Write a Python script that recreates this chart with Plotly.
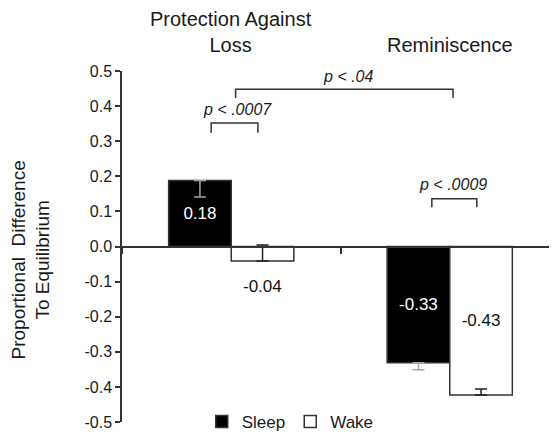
import plotly.graph_objects as go

# ---- data ----
categories = ["Protection Against<br>Loss", "Reminiscence"]
cat_x = [0, 1]
sleep = [0.188, -0.331]
wake = [-0.041, -0.423]
sleep_err_minus = [0.047, 0.020]
wake_err_plus = [0.045, 0.017]
sleep_labels = ["0.18", "-0.33"]
wake_labels = ["-0.04", "-0.43"]
ytick_vals = [0.5, 0.4, 0.3, 0.2, 0.1, 0.0, -0.1, -0.2, -0.3, -0.4, -0.5]
ytick_text = ["0.5", "0.4", "0.3", "0.2", "0.1", "0.0", "-0.1", "-0.2", "-0.3", "-0.4", "-0.5"]

# significance brackets: label, x0, x1, y_top, y_end, label_x, label_y
sig_labels = ["p &lt; .0007", "p &lt; .04", "p &lt; .0009"]
sig_x0 = [-0.092, 0.02, 0.918]
sig_x1 = [0.122, 1.015, 1.124]
sig_ytop = [0.352, 0.448, 0.136]
sig_yend = [0.324, 0.423, 0.112]
sig_lx = [0.027, 0.533, 1.013]
sig_ly = [0.389, 0.483, 0.177]

FONT = "Liberation Sans, Arial, sans-serif"
EDGE = "#333333"
BARGAP = 0.427

fig = go.Figure()
fig.add_trace(go.Bar(
    name="Sleep", x=cat_x, y=sleep,
    marker=dict(color="black", line=dict(color=EDGE, width=1.5)),
    text=sleep_labels, textposition="inside", insidetextanchor="middle",
    textangle=0, textfont=dict(color="white", size=17, family=FONT),
    error_y=dict(type="data", symmetric=False, array=[0, 0], arrayminus=sleep_err_minus,
                 color="#a6a6a6", thickness=1.5, width=6),
    hoverinfo="skip",
))
fig.add_trace(go.Bar(
    name="Wake", x=cat_x, y=wake,
    marker=dict(color="white", line=dict(color=EDGE, width=1.5)),
    text=["", wake_labels[1]], textposition="inside", insidetextanchor="middle",
    textangle=0, textfont=dict(color="#111111", size=17, family=FONT),
    error_y=dict(type="data", symmetric=False, array=wake_err_plus, arrayminus=[0, 0],
                 color="#222222", thickness=1.5, width=6),
    hoverinfo="skip",
))

annotations = []
# category titles on top
for cx, cname in zip(cat_x, categories):
    annotations.append(dict(x=cx, y=1, xref="x", yref="paper", yanchor="bottom",
                            yshift=13, text=cname, showarrow=False,
                            font=dict(size=20, family=FONT, color="#1a1a1a")))
# y axis title
annotations.append(dict(x=0, y=0.5, xref="paper", yref="paper", xanchor="center",
                        yanchor="middle", xshift=-92, yshift=-14, textangle=-90,
                        text="Proportional  Difference<br>To Equilibrium", showarrow=False,
                        font=dict(size=19, family=FONT, color="#1a1a1a")))
# small Wake label below its bar
bar_w = (1 - BARGAP) / 2
annotations.append(dict(x=cat_x[0] + bar_w / 2, y=wake[0], xref="x", yref="y",
                        yanchor="middle", yshift=-26, text=wake_labels[0], showarrow=False,
                        font=dict(size=17, family=FONT, color="#111111")))
shapes = []
for lab, x0, x1, yt, ye, lx, ly in zip(sig_labels, sig_x0, sig_x1, sig_ytop, sig_yend, sig_lx, sig_ly):
    shapes.append(dict(type="path", xref="x", yref="y",
                       path=f"M{x0},{ye} V{yt} H{x1} V{ye}",
                       line=dict(color=EDGE, width=1.5)))
    annotations.append(dict(x=lx, y=ly, xref="x", yref="y", text=f"<i>{lab}</i>",
                            showarrow=False, font=dict(size=16, family=FONT, color="#1a1a1a")))

fig.update_layout(
    width=557, height=440,
    margin=dict(l=114, r=6, t=63, b=26, autoexpand=False),
    plot_bgcolor="white", paper_bgcolor="white",
    barmode="group", bargap=BARGAP, bargroupgap=0,
    font=dict(family=FONT, color="#1a1a1a"),
    showlegend=True,
    legend=dict(orientation="h", x=0.385, xanchor="center", y=0, yanchor="middle",
                font=dict(size=17, family=FONT), itemwidth=30, bgcolor="rgba(0,0,0,0)"),
    annotations=annotations, shapes=shapes,
    xaxis=dict(range=[-0.5, 1.5], tickvals=[-0.5, 0.5, 1.5], showticklabels=False,
               ticks="outside", ticklen=7, tickcolor=EDGE, tickwidth=1.5,
               showline=True, linecolor=EDGE, linewidth=1.5,
               anchor="free", position=0.5, showgrid=False, zeroline=False),
    yaxis=dict(range=[-0.5, 0.5], tickvals=ytick_vals, ticktext=ytick_text,
               showline=True, linecolor=EDGE, linewidth=1.5, automargin=False,
               ticks="outside", ticklen=5, tickcolor=EDGE, tickwidth=1.5,
               tickfont=dict(size=16, family=FONT, color="#1a1a1a"),
               showgrid=False, zeroline=False),
)

fig.write_html("out.html")
